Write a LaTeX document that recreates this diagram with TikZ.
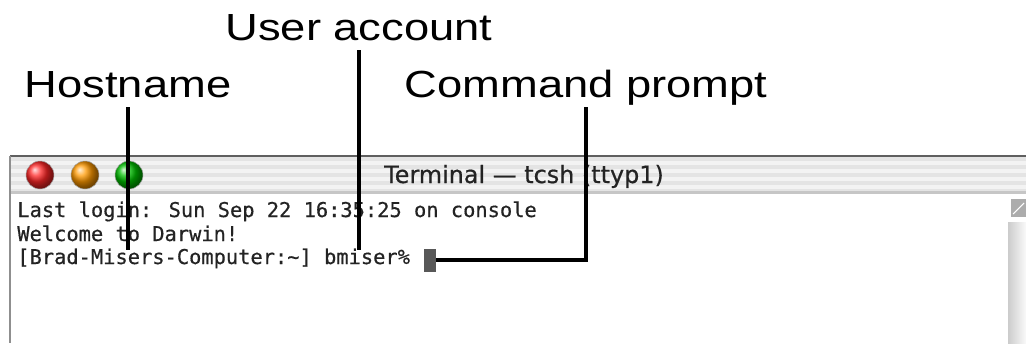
\documentclass[tikz,border=0pt]{standalone}
\usepackage{fontspec}
\usepackage{tikz}
\usetikzlibrary{positioning,calc}
\setmainfont{Liberation Sans}
\newfontfamily\labelfont[FakeStretch=1.2]{Liberation Sans}
\newfontfamily\titlefont[FakeBold=0.6]{DejaVu Sans}
\newfontfamily\termfont[FakeBold=0.5]{DejaVu Sans Mono}
\definecolor{barra}{RGB}{228,228,228}
\definecolor{raya}{RGB}{243,243,243}
\definecolor{borde}{RGB}{95,95,95}
\definecolor{textogris}{RGB}{35,35,35}
\definecolor{cursorgris}{RGB}{88,88,88}

\begin{document}
\begin{tikzpicture}[x=0.02cm,y=-0.02cm,
lbl/.style={font=\labelfont\fontsize{21.5}{24}\selectfont,anchor=base,inner xsep=0pt,inner ysep=0.2cm,text depth=0pt},
term/.style={font=\termfont\fontsize{11.6}{13}\selectfont,anchor=base west,inner sep=0pt,text=textogris},
boton/.style={circle,minimum size=0.56cm,inner sep=0pt,shading=ball,draw=black!35,line width=0.3pt},
ptr/.style={line width=2.3pt,black}
]
\useasboundingbox (0,0) rectangle (1026,343);
\fill[white] (0,0) rectangle (1026,343);

\fill[barra] (10,156) rectangle (1026,193);
\foreach \y in {161,169,177,185} \fill[raya] (10,\y) rectangle (1026,\y+4);
\fill[gray!45] (10,191) rectangle (1026,194);
\draw[borde,line width=0.8pt] (10,156) -- (1026,156);
\draw[borde!70,line width=0.6pt] (10,156) -- (10,343);

\node[boton,ball color=red!85!white] (closebtn) at (40,175) {};
\node[boton,ball color=orange!80!yellow] (minbtn) at (85,175) {};
\node[boton,ball color=green!75!black] (zoombtn) at (129,175) {};
\node[font=\titlefont\fontsize{13.6}{15}\selectfont,text=textogris,anchor=base] (title) at (524,183) {Terminal — tcsh (ttyp1)};

\shade[left color=gray!40,right color=gray!4] (1008,222) rectangle (1026,343);
\fill[gray!65] (1011,199) rectangle (1026,217);
\draw[white,line width=0.6pt] (1013,214) -- (1024,203);

\node[term] (line1) at (17,217) {Last login: Sun Sep 22 16:35:25 on console};
\node[term] (line2) at (17,241) {Welcome to Darwin!};
\node[term] (line3) at (17,264) {[Brad-Misers-Computer:\textasciitilde] bmiser\%};
\node[fill=cursorgris,minimum width=0.24cm,minimum height=0.46cm,inner sep=0pt] (cursor) at (430,260) {};

\node[lbl] (hostname) at (128,97) {Hostname};
\node[lbl] (useracct) at (359,40) {User account};
\node[lbl] (cmdprompt) at (586,97) {Command prompt};
\coordinate (hostpt) at (128,250);
\coordinate (userpt) at (359,250);

\draw[ptr] (hostname.south) -- (hostpt);
\draw[ptr] (useracct.south) -- (userpt);
\draw[ptr] (cmdprompt.south) |- (cursor.east);
\end{tikzpicture}
\end{document}
